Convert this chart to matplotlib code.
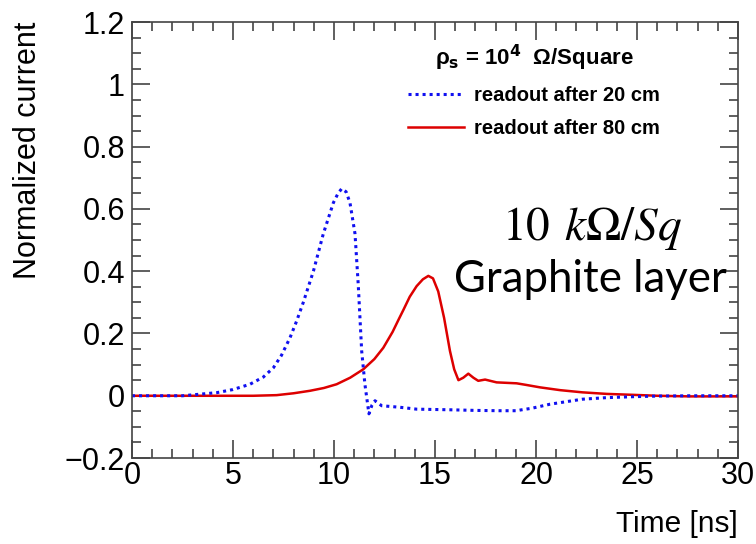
import numpy as np
import matplotlib
matplotlib.use("Agg")
import matplotlib.pyplot as plt
from matplotlib.ticker import MultipleLocator

# readout after 20 cm (blue dotted)
t20 = [0, 2.5, 4.2, 5.0, 5.84, 6.5, 7.0, 7.4, 7.82, 8.15, 8.48, 8.98, 9.47, 9.97, 10.2, 10.38,
       10.6, 10.79, 11.04, 11.2, 11.37, 11.53, 11.73, 11.88, 12.03, 12.36, 13.27, 14.09,
       15.74, 17.0, 18.2, 19.0, 19.8, 20.7, 22.3, 23.5, 24.8, 26.0, 27.6, 30]
i20 = [0, 0, 0.01, 0.02, 0.037, 0.06, 0.09, 0.13, 0.186, 0.24, 0.30, 0.40, 0.52, 0.62, 0.65, 0.665,
       0.655, 0.62, 0.52, 0.357, 0.144, 0.037, -0.058, -0.03, -0.016, -0.032, -0.037, -0.043,
       -0.045, -0.047, -0.048, -0.048, -0.04, -0.027, -0.011, -0.006, -0.003, -0.001, 0, 0]

# readout after 80 cm (red solid)
t80 = [0, 6.0, 7.16, 8.0, 8.81, 9.5, 10.13, 10.8, 11.45, 12.0, 12.44, 12.9, 13.2, 13.43, 13.75,
       14.09, 14.4, 14.67, 14.9, 15.16, 15.45, 15.74, 15.95, 16.16, 16.4, 16.65, 16.9, 17.14,
       17.48, 18.05, 19.04, 19.5, 20.2, 21.2, 22.3, 23.5, 24.8, 26.0, 27.6, 30]
i80 = [0, 0, 0.002, 0.008, 0.016, 0.025, 0.037, 0.058, 0.085, 0.118, 0.154, 0.205, 0.245, 0.275, 0.318,
       0.352, 0.374, 0.385, 0.377, 0.335, 0.25, 0.144, 0.085, 0.05, 0.058, 0.071, 0.058, 0.048,
       0.052, 0.043, 0.04, 0.035, 0.027, 0.018, 0.011, 0.006, 0.003, 0.0, -0.002, -0.002]

plt.rcParams['font.family'] = ['Liberation Sans', 'DejaVu Sans']

fig = plt.figure(figsize=(7.56, 5.44), dpi=100)
ax = fig.add_axes([0.1746, 0.158, 0.8016, 0.8014])

ax.plot(t80, i80, color='#dd0000', lw=1.8, label='readout after 80 cm')
ax.plot(t20, i20, color='#1010f0', lw=2.2, linestyle=(0, (1, 1.3)), label='readout after 20 cm')

ax.set_xlim(0, 30)
ax.set_ylim(-0.2, 1.2)
ax.xaxis.set_major_locator(MultipleLocator(5))
ax.xaxis.set_minor_locator(MultipleLocator(1))
ax.yaxis.set_major_locator(MultipleLocator(0.2))
ax.yaxis.set_minor_locator(MultipleLocator(0.05))
ax.set_yticks(np.arange(-0.2, 1.21, 0.2))
ax.set_yticklabels(['\u22120.2', '0', '0.2', '0.4', '0.6', '0.8', '1', '1.2'])

ax.tick_params(which='both', direction='in', top=True, right=True, labelsize=22, color='#444444')
ax.tick_params(which='major', length=13, width=1.2)
ax.tick_params(which='minor', length=6.5, width=1.2)
ax.tick_params(axis='x', pad=2)
ax.tick_params(axis='y', pad=5)
for s in ax.spines.values():
    s.set_color('#444444')
    s.set_linewidth(1.2)

ax.set_xlabel('Time [ns]', fontsize=21.5, loc='right', labelpad=14)
ax.set_ylabel('Normalized current', fontsize=22, loc='top', labelpad=16)

h, l = ax.get_legend_handles_labels()
leg = ax.legend(h[::-1], l[::-1], loc='upper left', bbox_to_anchor=(0.425, 0.995),
                frameon=False, handlelength=2.8, handletextpad=0.5,
                labelspacing=0.68, prop={'weight': 'bold', 'size': 14.5},
                title='\u03c1$_{\\mathbf{s}}$ = 10$^{\\mathbf{4}}$  \u03a9/Square',
                title_fontproperties={'weight': 'bold', 'size': 16})

ax.text(0.76, 0.527, r'$10\;\,k\Omega/Sq$', transform=ax.transAxes, ha='center', va='center',
        fontsize=34, math_fontfamily='stix')
ax.text(0.757, 0.41, 'Graphite layer', transform=ax.transAxes, ha='center', va='center',
        fontsize=31.5, family='Lato')

fig.savefig('out.png', dpi=100)
